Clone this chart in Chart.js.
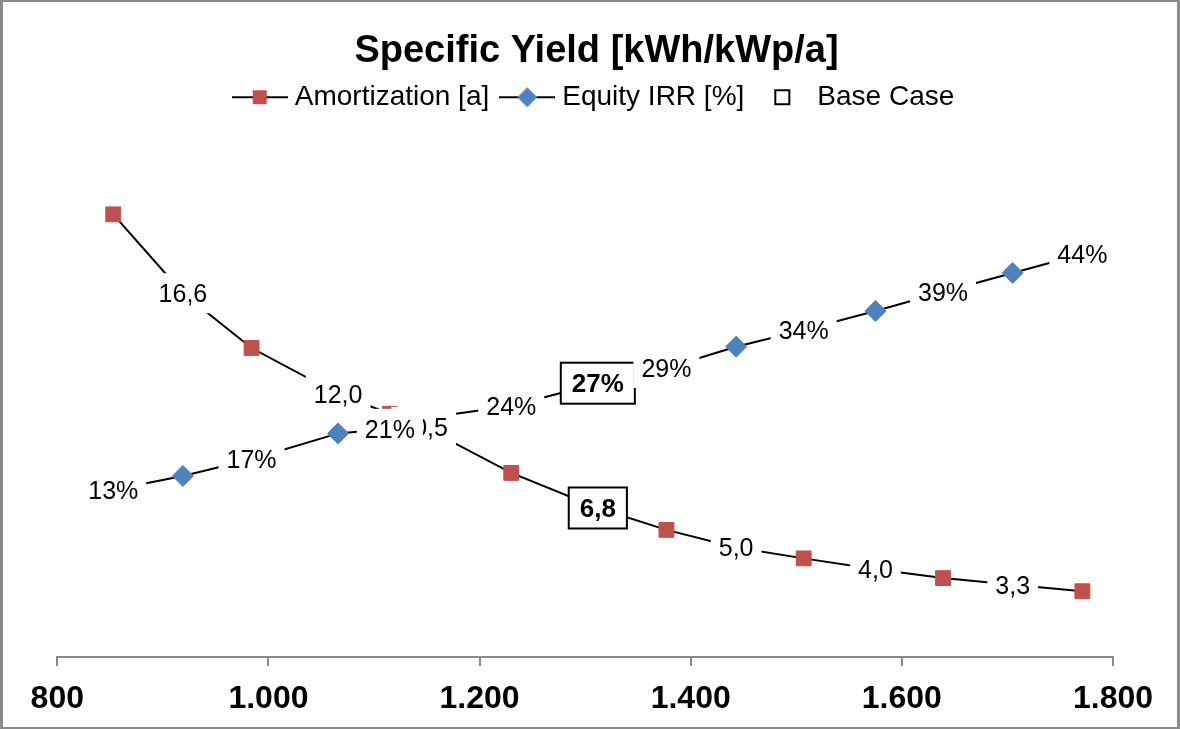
<!DOCTYPE html>
<html>
<head>
<meta charset="utf-8">
<title>Specific Yield sensitivity</title>
<script src="https://cdn.jsdelivr.net/npm/chart.js@4.4.1/dist/chart.umd.min.js"></script>
<style>
    html, body { margin: 0; padding: 0; background: #fff; }
    #frame {
        width: 1180px; height: 729px; box-sizing: border-box;
        border-style: solid; border-color: #8a8a8a;
        border-width: 2px 3px 2px 3px;
    }
    canvas { display: block; }
</style>
</head>
<body>
<div id="frame"><canvas id="yieldChart" width="1174" height="725"></canvas></div>
<script>
// Sensitivity of amortization period and equity IRR to the specific yield
const specificYield = [853, 919, 984, 1066, 1115, 1147, 1230, 1312, 1377, 1443, 1507, 1575, 1639, 1705, 1771];
const amortization = [20.2, 16.6, 14.1, 12.0, 11.1, 10.5, 8.4, 6.8, 5.8, 5.0, 4.5, 4.0, 3.6, 3.3, 3.0];
const equityIrr = [13, 14.8, 17, 20.4, 21, 22.4, 24, 27, 29, 31.8, 34, 36.5, 39, 41.5, 44];
const baseCaseYield = 1312;
const xTicks = [800, 1000, 1200, 1400, 1600, 1800];

const FONT = "'Liberation Sans', Arial, sans-serif";
const RED = '#C0504D';
const BLUE = '#4F81BD';

Chart.defaults.font.family = FONT;
Chart.defaults.color = '#000';

// every second point carries a value label instead of a marker, the base case gets a boxed label
const amortLabelled = specificYield.map((x, i) => i % 2 === 1 || x === baseCaseYield);
const irrLabelled = specificYield.map((x, i) => i % 2 === 0 || x === baseCaseYield);

const fmtThousands = v => v >= 1000 ? Math.floor(v / 1000) + '.' + String(v % 1000).padStart(3, '0') : String(v);

// small legend icons: line with the series marker in the middle
function legendIcon(draw) {
    const c = document.createElement('canvas');
    c.width = 56; c.height = 22;
    const g = c.getContext('2d');
    draw(g, 28, 11);
    return c;
}
function iconLine(g) {
    g.strokeStyle = '#000'; g.lineWidth = 2;
    g.beginPath(); g.moveTo(0, 11); g.lineTo(56, 11); g.stroke();
}
const amortIcon = legendIcon((g, cx, cy) => {
    iconLine(g);
    g.fillStyle = RED; g.fillRect(cx - 7, cy - 7, 14, 14);
});
const irrIcon = legendIcon((g, cx, cy) => {
    iconLine(g);
    g.fillStyle = BLUE;
    g.beginPath();
    g.moveTo(cx - 10, cy); g.lineTo(cx, cy - 10); g.lineTo(cx + 10, cy); g.lineTo(cx, cy + 10);
    g.closePath(); g.fill();
});
const baseIcon = legendIcon((g, cx, cy) => {
    g.strokeStyle = '#000'; g.lineWidth = 2;
    g.strokeRect(cx - 7, cy - 7, 14, 14);
});

// value labels on a white patch, drawn over lines and markers
const pointLabels = {
    id: 'pointLabels',
    afterDatasetsDraw(chart) {
        const ctx = chart.ctx;
        ctx.save();
        ctx.textAlign = 'center';
        ctx.textBaseline = 'middle';
        chart.data.datasets.forEach((ds, di) => {
            const meta = chart.getDatasetMeta(di);
            meta.data.forEach((el, i) => {
                if (!ds.labelled[i]) return;
                const text = ds.formatValue(ds.data[i].y);
                const isBase = ds.data[i].x === baseCaseYield;
                ctx.font = isBase ? 'bold 26px ' + FONT : '25px ' + FONT;
                const w = ctx.measureText(text).width + (isBase ? 22 : 16);
                const h = isBase ? 41 : 40;
                ctx.fillStyle = '#fff';
                ctx.fillRect(el.x - w / 2, el.y - h / 2, w, h);
                if (isBase) {
                    ctx.lineWidth = 2;
                    ctx.strokeStyle = '#000';
                    ctx.strokeRect(el.x - w / 2, el.y - h / 2, w, h);
                }
                ctx.fillStyle = '#000';
                ctx.fillText(text, el.x, el.y + 2);
            });
        });
        ctx.restore();
    }
};

// value axes stay invisible, they only reserve a fixed margin on each side
const hiddenAxis = (position, width, min, max) => ({
    position, min, max,
    ticks: { display: false },
    grid: { display: false },
    border: { display: false },
    afterFit: scale => { scale.width = width; }
});

new Chart(document.getElementById('yieldChart'), {
    type: 'line',
    data: {
        datasets: [{
            label: 'Amortization [a]',
            data: specificYield.map((x, i) => ({ x, y: amortization[i] })),
            yAxisID: 'y',
            borderColor: '#000',
            borderWidth: 2,
            pointStyle: 'rect',
            pointRadius: amortLabelled.map(l => l ? 0 : 10.5),
            pointBackgroundColor: RED,
            pointBorderColor: RED,
            pointBorderWidth: 1,
            labelled: amortLabelled,
            formatValue: v => v.toFixed(1).replace('.', ',')
        }, {
            label: 'Equity IRR [%]',
            data: specificYield.map((x, i) => ({ x, y: equityIrr[i] })),
            yAxisID: 'y2',
            borderColor: '#000',
            borderWidth: 2,
            pointStyle: 'rectRot',
            pointRadius: irrLabelled.map(l => l ? 0 : 10.5),
            pointBackgroundColor: BLUE,
            pointBorderColor: BLUE,
            pointBorderWidth: 1,
            labelled: irrLabelled,
            formatValue: v => Math.round(v) + '%'
        }]
    },
    options: {
        responsive: false,
        animation: false,
        events: [],
        layout: { padding: { left: 13, right: 0, top: 0, bottom: 1 } },
        plugins: {
            title: {
                display: true,
                text: 'Specific Yield [kWh/kWp/a]',
                color: '#000',
                font: { size: 38, weight: 'bold', lineHeight: 0.9 },
                padding: { top: 32, bottom: -2 }
            },
            legend: {
                display: true,
                labels: {
                    usePointStyle: true,
                    pointStyleWidth: 42,
                    padding: 17,
                    color: '#000',
                    font: { size: 28 },
                    generateLabels: () => [
                        { text: 'Amortization [a]', pointStyle: amortIcon, lineWidth: 0, hidden: false },
                        { text: 'Equity IRR [%]', pointStyle: irrIcon, lineWidth: 0, hidden: false },
                        { text: 'Base Case', pointStyle: baseIcon, lineWidth: 0, hidden: false }
                    ]
                }
            },
            tooltip: { enabled: false }
        },
        scales: {
            x: {
                type: 'linear',
                min: xTicks[0],
                max: xTicks[xTicks.length - 1],
                afterBuildTicks: axis => { axis.ticks = xTicks.map(v => ({ value: v })); },
                afterFit: scale => { scale.height = 69; },
                border: { display: true, color: '#8a8a8a', width: 2 },
                grid: { drawOnChartArea: false, drawTicks: true, tickLength: 9, color: '#8a8a8a', lineWidth: 2 },
                ticks: {
                    color: '#000',
                    padding: 20,
                    maxRotation: 0,
                    font: { size: 32, weight: 'bold', lineHeight: 0.8 },
                    callback: v => fmtThousands(v)
                }
            },
            y: hiddenAxis('left', 41.3, 0, 24.45),
            y2: hiddenAxis('right', 64, -9, 61.45)
        }
    },
    plugins: [pointLabels]
});
</script>
</body>
</html>
